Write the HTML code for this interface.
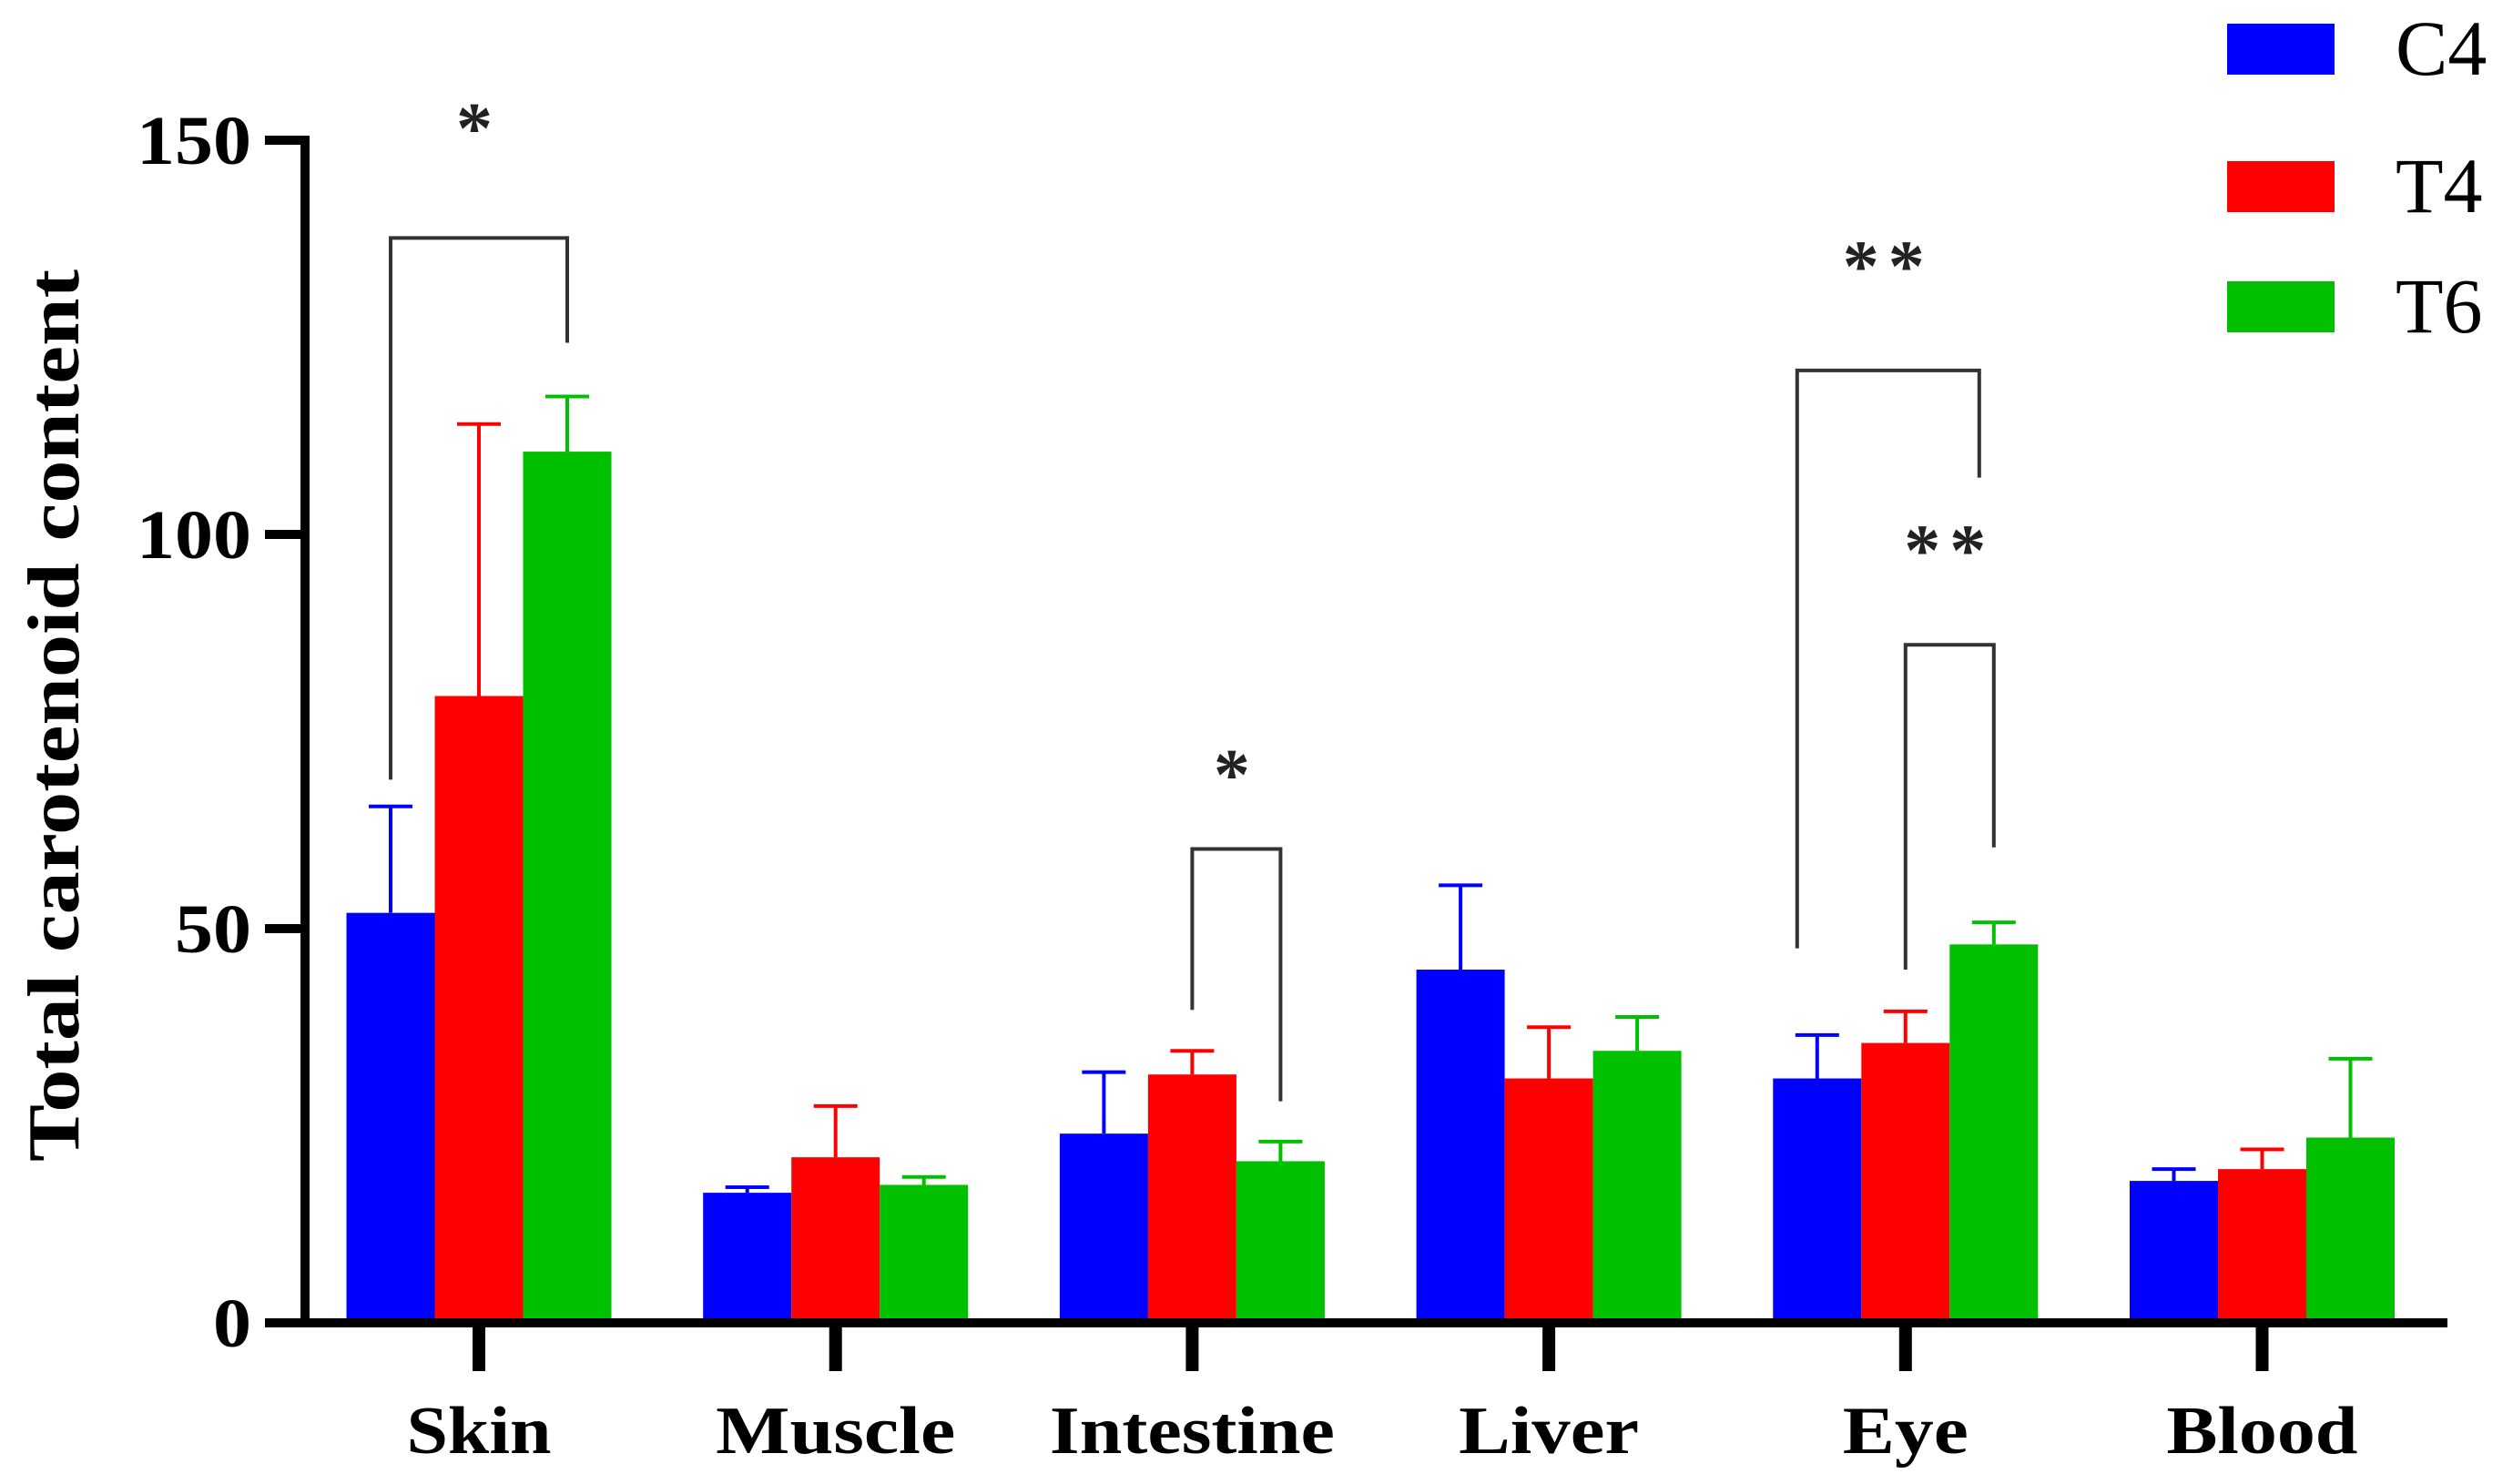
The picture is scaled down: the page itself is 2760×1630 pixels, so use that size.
<!DOCTYPE html>
<html><head><meta charset="utf-8"><style>
html,body{margin:0;padding:0;background:#fff;}
svg{display:block;}
text{font-family:"Liberation Serif",serif;}
</style></head><body>
<svg id="chart" width="2760" height="1630" viewBox="0 0 2760 1630" xmlns="http://www.w3.org/2000/svg"></svg>
<script>
const categories = ["Skin","Muscle","Intestine","Liver","Eye","Blood"];
const seriesNames = ["C4","T4","T6"];
const c4Values = [52, 16.5, 24, 44.8, 31, 18];
const t4Values = [79.5, 21, 31.5, 31, 35.5, 19.5];
const t6Values = [110.5, 17.5, 20.5, 34.5, 48, 23.5];
const c4Err = [13.5, 0.7, 7.8, 10.7, 5.5, 1.5];
const t4Err = [34.5, 6.5, 3, 6.5, 4, 2.5];
const t6Err = [7, 1, 2.5, 4.3, 2.8, 10];
const yTicks = [0, 50, 100, 150];
const bracketCats = [0, 2, 4, 4];
const bracketFrom = [0, 1, 0, 1];
const bracketTo = [2, 2, 2, 2];
const bracketTop = [137.6, 60.1, 120.8, 86];
const bracketLeftEnd = [68.9, 39.7, 47.5, 44.8];
const bracketRightEnd = [124.3, 28.1, 107.2, 60.3];
const bracketLabels = ["*", "*", "**", "**"];
const bracketLabelVal = [153, 71, 135.5, 99.5];

const colors = ["#0000ff","#ff0000","#00c000"];
const values = [c4Values, t4Values, t6Values];
const errs = [c4Err, t4Err, t6Err];
const labelLen = [159, 263, 313, 198, 138, 210];
const NS = "http://www.w3.org/2000/svg";
const svg = document.getElementById("chart");
const y0 = 1453, yMax = 150, yTopPx = 154;
function y(v){ return y0 - v/yMax*(y0-yTopPx); }
const groupStart = 526, groupStep = 391.7, barW = 97;
function xc(i){ return groupStart + i*groupStep; }
function barX(i,s){ return xc(i) + (s-1.5)*barW; }
function barC(i,s){ return xc(i) + (s-1)*barW; }
function el(tag, attrs, parent){
  const e = document.createElementNS(NS, tag);
  for (const k in attrs) e.setAttribute(k, attrs[k]);
  (parent||svg).appendChild(e);
  return e;
}

for (let i=0;i<categories.length;i++){
  for (let s=0;s<3;s++){
    const v = values[s][i], e = errs[s][i];
    const r = el("rect",{x:barX(i,s),y:y(v),width:barW,height:y0-y(v),fill:colors[s]});
    
    
    const g = el("g",{stroke:colors[s],"stroke-width":4});
    
    
    el("line",{x1:barC(i,s),x2:barC(i,s),y1:y(v),y2:y(v+e)},g);
    el("line",{x1:barC(i,s)-24,x2:barC(i,s)+24,y1:y(v+e),y2:y(v+e)},g);
  }
}

const axes = el("g",{stroke:"#000","stroke-width":10});


el("line",{x1:335,x2:335,y1:y(150)-5,y2:y0+5},axes);
el("line",{x1:291,x2:2688,y1:y0,y2:y0},axes);
for (const t of yTicks){
  el("line",{x1:291,x2:335,y1:y(t),y2:y(t)},axes);
  const tx = el("text",{x:276,y:y(t)+26,"text-anchor":"end","font-size":76,"font-weight":"bold",fill:"#000",textLength:String(t).length*42,lengthAdjust:"spacingAndGlyphs"});
  tx.textContent = t;
  
  
}
for (let i=0;i<categories.length;i++){
  el("line",{x1:xc(i),x2:xc(i),y1:y0,y2:y0+53,"stroke-width":14},axes);
  const tx = el("text",{x:xc(i),y:1596,"text-anchor":"middle","font-size":74,"font-weight":"bold",fill:"#000",textLength:labelLen[i],lengthAdjust:"spacingAndGlyphs"});
  tx.textContent = categories[i];
  
  
}
const yt = el("text",{x:0,y:0,transform:"translate(86,786) rotate(-90)","text-anchor":"middle","font-size":80,"font-weight":"bold",fill:"#000",textLength:980,lengthAdjust:"spacingAndGlyphs"});
yt.textContent = "Total carotenoid content";



for (let b=0;b<bracketCats.length;b++){
  const i = bracketCats[b];
  const xl = barC(i,bracketFrom[b]) - (b===2?22:0), xr = barC(i,bracketTo[b]) - (b===2?16:0);
  const p = el("path",{d:`M${xl},${y(bracketLeftEnd[b])} V${y(bracketTop[b])} H${xr} V${y(bracketRightEnd[b])}`,fill:"none",stroke:"#333","stroke-width":4});
  
  
  const t = el("text",{x:(xl+xr)/2,y:y(bracketLabelVal[b])+40,"text-anchor":"middle","font-size":80,"font-weight":"bold",fill:"#222","letter-spacing":10});
  t.textContent = bracketLabels[b];
  
  
}

const legY = [26, 177, 309];
for (let s=0;s<3;s++){
  const g = el("g",{});
  
  
  el("rect",{x:2446,y:legY[s],width:118,height:56,fill:colors[s]},g);
  const t = el("text",{x:2631,y:legY[s]+56,"font-size":86,fill:"#000"},g);
  t.textContent = seriesNames[s];
}
</script>
</body></html>
